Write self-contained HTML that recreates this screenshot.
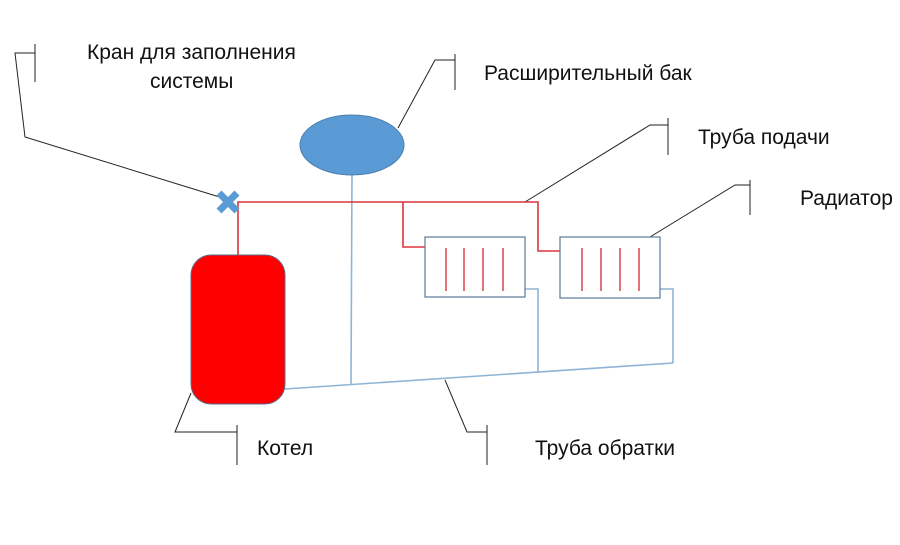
<!DOCTYPE html>
<html><head><meta charset="utf-8"><style>
html,body{margin:0;padding:0;background:#fff;}
svg text{font-family:"Liberation Sans","DejaVu Sans",sans-serif;font-size:21px;fill:#111;}
</style></head><body>
<svg width="900" height="540" viewBox="0 0 900 540" xmlns="http://www.w3.org/2000/svg">
<rect width="900" height="540" fill="#fff"/>
<g stroke="#222" stroke-width="1" fill="none">
<polyline points="226,199 25,137 15,53 35,53"/><line x1="35" y1="44" x2="35" y2="82"/>
<polyline points="398,128 435,60 455,60"/><line x1="455" y1="54" x2="455" y2="90"/>
<polyline points="525,202 650,125 668,125"/><line x1="668" y1="118" x2="668" y2="155"/>
<polyline points="650,237 735,185 750,185"/><line x1="750" y1="180" x2="750" y2="215"/>
<polyline points="191,393 175,432 237,432"/><line x1="237" y1="425" x2="237" y2="465"/>
<polyline points="445,380 467,432 487,432"/><line x1="487" y1="425" x2="487" y2="465"/>
</g>
<g stroke="#8fb4d6" stroke-width="1.6" fill="none">
<line x1="352" y1="170" x2="351" y2="384"/>
<line x1="285" y1="389" x2="673" y2="363"/>
<polyline points="525,289 538,289 538,372"/>
<polyline points="660,289 673,289 673,363"/>
</g>
<g stroke="#d9363e" stroke-width="1.6" fill="none">
<polyline points="238,256 238,202 538,202 538,251 560,251"/>
<polyline points="403,202 403,247 425,247"/>
</g>
<ellipse cx="352" cy="145" rx="52" ry="30" fill="#5b9bd5" stroke="#4a7fb0" stroke-width="1"/>
<rect x="191" y="255" width="94" height="149" rx="20" fill="#ff0000" stroke="#5a6b8a" stroke-width="1"/>
<g fill="#fff" stroke="#5a7a9a" stroke-width="1.2">
<rect x="425" y="237" width="100" height="60"/>
<rect x="560" y="237" width="100" height="61"/>
</g>
<g stroke="#d9363e" stroke-width="1.4">
<line x1="446" y1="248" x2="446" y2="291"/><line x1="464" y1="248" x2="464" y2="291"/>
<line x1="483" y1="248" x2="483" y2="291"/><line x1="503" y1="248" x2="503" y2="291"/>
<line x1="582" y1="248" x2="582" y2="291"/><line x1="601" y1="248" x2="601" y2="291"/>
<line x1="620" y1="248" x2="620" y2="291"/><line x1="639" y1="248" x2="639" y2="291"/>
</g>
<g stroke="#5b9bd5" stroke-width="7" stroke-linecap="butt">
<line x1="219" y1="193" x2="237" y2="211"/><line x1="237" y1="193" x2="219" y2="211"/>
</g>
<text x="87" y="59">Кран для заполнения</text>
<text x="150" y="88">системы</text>
<text x="484" y="80">Расширительный бак</text>
<text x="698" y="144">Труба подачи</text>
<text x="800" y="205">Радиатор</text>
<text x="257" y="455">Котел</text>
<text x="535" y="455">Труба обратки</text>
</svg>
</body></html>
